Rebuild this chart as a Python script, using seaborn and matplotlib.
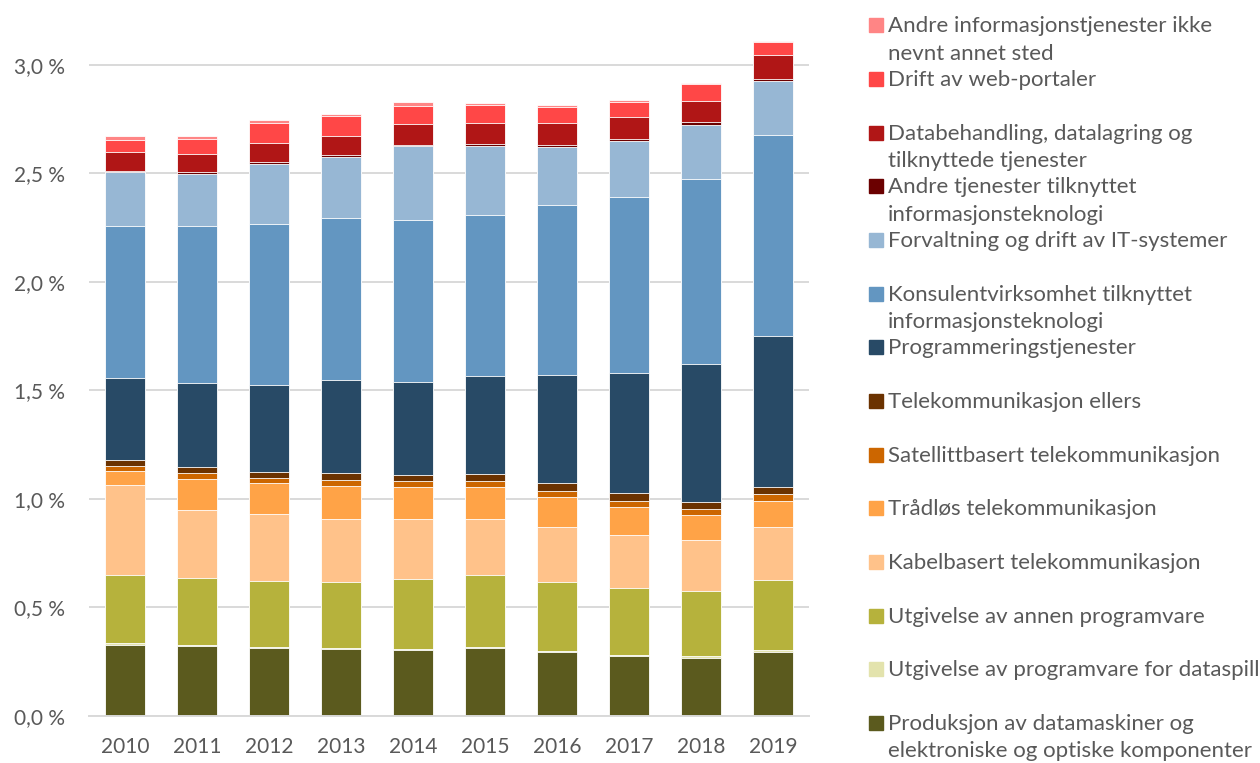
import pandas as pd
import seaborn as sns
import matplotlib.pyplot as plt
from matplotlib.patches import Rectangle
from matplotlib.ticker import FuncFormatter

# Years on the x axis
years = ['2010', '2011', '2012', '2013', '2014', '2015', '2016', '2017', '2018', '2019']

# Series, listed from the bottom of the stack to the top (values in % points)
produksjon = [0.329, 0.321, 0.315, 0.310, 0.306, 0.314, 0.296, 0.275, 0.269, 0.296]
dataspill = [0.006, 0.005, 0.003, 0.003, 0.004, 0.005, 0.005, 0.006, 0.006, 0.009]
annen_programvare = [0.316, 0.311, 0.304, 0.306, 0.323, 0.329, 0.317, 0.310, 0.302, 0.323]
kabelbasert = [0.414, 0.312, 0.309, 0.289, 0.275, 0.260, 0.253, 0.243, 0.234, 0.242]
tradlos = [0.064, 0.145, 0.143, 0.152, 0.147, 0.147, 0.140, 0.131, 0.115, 0.121]
satellitt = [0.023, 0.026, 0.024, 0.026, 0.028, 0.028, 0.027, 0.027, 0.029, 0.032]
telekom_ellers = [0.026, 0.029, 0.026, 0.034, 0.029, 0.032, 0.037, 0.034, 0.033, 0.031]
programmering = [0.381, 0.387, 0.403, 0.427, 0.429, 0.452, 0.498, 0.556, 0.636, 0.697]
konsulent = [0.700, 0.723, 0.742, 0.749, 0.743, 0.743, 0.782, 0.811, 0.852, 0.928]
forvaltning = [0.247, 0.237, 0.276, 0.280, 0.343, 0.318, 0.267, 0.257, 0.249, 0.249]
andre_it = [0.007, 0.009, 0.009, 0.008, 0.006, 0.006, 0.008, 0.007, 0.011, 0.007]
databehandling = [0.085, 0.083, 0.088, 0.090, 0.095, 0.100, 0.104, 0.103, 0.100, 0.110]
web_portaler = [0.058, 0.071, 0.092, 0.091, 0.083, 0.083, 0.072, 0.071, 0.075, 0.061]
andre_info = [0.018, 0.015, 0.012, 0.009, 0.018, 0.008, 0.010, 0.008, 0.007, 0.005]

labels = [
    'Produksjon av datamaskiner og\nelektroniske og optiske komponenter',
    'Utgivelse av programvare for dataspill',
    'Utgivelse av annen programvare',
    'Kabelbasert telekommunikasjon',
    'Trådløs telekommunikasjon',
    'Satellittbasert telekommunikasjon',
    'Telekommunikasjon ellers',
    'Programmeringstjenester',
    'Konsulentvirksomhet tilknyttet\ninformasjonsteknologi',
    'Forvaltning og drift av IT-systemer',
    'Andre tjenester tilknyttet\ninformasjonsteknologi',
    'Databehandling, datalagring og\ntilknyttede tjenester',
    'Drift av web-portaler',
    'Andre informasjonstjenester ikke\nnevnt annet sted',
]
colors = ['#5b5a1e', '#e3e3ad', '#b6b23c', '#ffc28a', '#ffa347', '#cc6600', '#6b3200',
          '#284a66', '#6396c1', '#97b7d4', '#6b0000', '#b01616', '#ff4747', '#ff8585']

series = [produksjon, dataspill, annen_programvare, kabelbasert, tradlos, satellitt,
          telekom_ellers, programmering, konsulent, forvaltning, andre_it,
          databehandling, web_portaler, andre_info]

df = pd.DataFrame({lab: vals for lab, vals in zip(labels, series)}, index=years)
cum = df.cumsum(axis=1)

sns.set_style('white')
plt.rcParams['font.family'] = ['Lato', 'DejaVu Sans']
text_col = '#595959'

fig = plt.figure(figsize=(12.6, 7.63), dpi=100)
ax = fig.add_axes([89 / 1260, 47 / 763, 720 / 1260, 706 / 763])

# stacked bars: draw cumulative totals from the top series down
for lab, col in zip(labels[::-1], colors[::-1]):
    sns.barplot(x=years, y=cum[lab].values, color=col, width=0.556,
                errorbar=None, saturation=1, edgecolor='white', linewidth=0.6, ax=ax)

ax.set_xlim(-0.5, 9.5)
ax.set_ylim(0, 3.253)
ax.set_yticks([0, 0.5, 1.0, 1.5, 2.0, 2.5, 3.0])
ax.yaxis.set_major_formatter(FuncFormatter(lambda v, p: f'{v:.1f} %'.replace('.', ',')))
ax.grid(axis='y', color='#d9d9d9', linewidth=1.4)
ax.set_axisbelow(True)
for s in ['top', 'right', 'left']:
    ax.spines[s].set_visible(False)
ax.spines['bottom'].set_color('#d9d9d9')
ax.spines['bottom'].set_linewidth(1.4)
ax.tick_params(axis='y', length=0, pad=17, labelsize=15, labelcolor=text_col)
ax.tick_params(axis='x', length=0, pad=15, labelsize=15, labelcolor=text_col)
ax.set_xlabel('')
ax.set_ylabel('')

# legend on the right, top of stack first
for i, (lab, col) in enumerate(zip(labels[::-1], colors[::-1])):
    yc = 25.3 + 53.67 * i
    fig.add_artist(Rectangle((869 / 1260, 1 - (yc + 7) / 763), 14 / 1260, 14 / 763,
                             transform=fig.transFigure, color=col))
    fig.text(888 / 1260, 1 - (yc - 9) / 763, lab, fontsize=16, color=text_col,
             va='top', ha='left', linespacing=1.45)

fig.savefig('out.png', dpi=100)
